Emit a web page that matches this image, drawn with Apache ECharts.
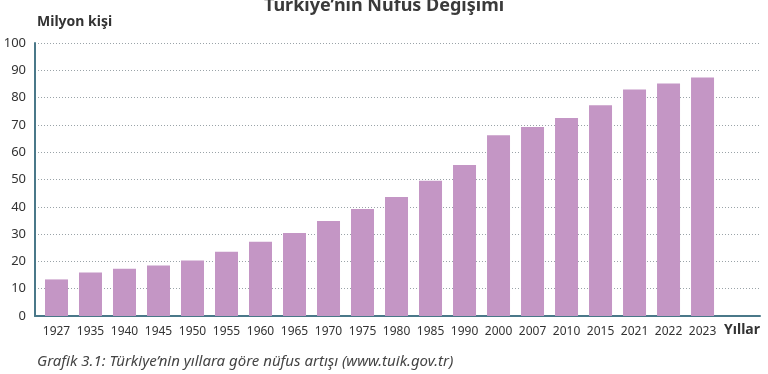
<!DOCTYPE html>
<html>
<head>
<meta charset="utf-8">
<script src="https://cdn.jsdelivr.net/npm/echarts@6/dist/echarts.min.js"></script>
<style>
html,body{margin:0;padding:0;background:#fff;}
#chart{width:768px;height:374px;}
</style>
</head>
<body>
<div id="chart"></div>
<script>
const years = ['1927','1935','1940','1945','1950','1955','1960','1965','1970','1975','1980','1985','1990','2000','2007','2010','2015','2021','2022','2023'];
const population = [13.4,15.9,17.3,18.5,20.3,23.5,27.2,30.4,34.8,39.2,43.6,49.5,55.3,66.2,69.2,72.5,77.2,83.0,85.2,87.4];
const yTicks = [0,10,20,30,40,50,60,70,80,90,100];
const titleText = 'Türkiye’nin Nüfus Değişimi';
const yName = 'Milyon kişi';
const xName = 'Yıllar';
const caption = 'Grafik 3.1: Türkiye’nin yıllara göre nüfus artışı (www.tuik.gov.tr)';

const FONT = '"Noto Sans", sans-serif';
const chart = echarts.init(document.getElementById('chart'), null, {renderer:'canvas'});
const idx = years.map((y,i)=>i);
chart.setOption({
  animation:false,
  textStyle:{fontFamily:FONT},
  title:{text:titleText,left:'center',top:-8,textStyle:{fontFamily:FONT,fontSize:18,fontWeight:'bold',color:'#3a3a3a'}},
  grid:{left:35,right:8,top:43,bottom:58,containLabel:false},
  xAxis:{
    type:'value',min:-0.632,max:20.69,
    axisLine:{show:true,onZero:false,lineStyle:{color:'#4a7889',width:2}},
    axisTick:{show:false},
    splitLine:{show:false},
    axisLabel:{customValues:idx,formatter:v=>years[Math.round(v)]||'',color:'#333',fontSize:12,margin:10,fontFamily:FONT},
    name:xName,nameLocation:'end',nameGap:0,
    nameTextStyle:{fontFamily:FONT,fontSize:14,fontWeight:'bold',color:'#333',align:'right',verticalAlign:'top',padding:[7,0,0,0]}
  },
  yAxis:{
    type:'value',min:0,max:100,interval:10,
    axisLine:{show:true,onZero:false,lineStyle:{color:'#4a7889',width:2}},
    axisTick:{show:false},
    axisLabel:{color:'#333',fontSize:13,margin:9,fontFamily:FONT,customValues:yTicks},
    splitLine:{show:true,lineStyle:{color:'#9aa3a8',type:[1,2],width:1}},
    name:yName,nameLocation:'end',nameGap:14,
    nameTextStyle:{fontFamily:FONT,fontSize:14,fontWeight:'bold',color:'#333',align:'left',padding:[0,0,0,2]}
  },
  graphic:[{type:'text',left:37,top:354,style:{text:caption,font:'italic 15px '+FONT,fill:'#444'}}],
  series:[{type:'bar',barWidth:23,data:population.map((v,i)=>[i,v]),itemStyle:{color:'#c496c5'}}]
});
</script>
</body>
</html>
